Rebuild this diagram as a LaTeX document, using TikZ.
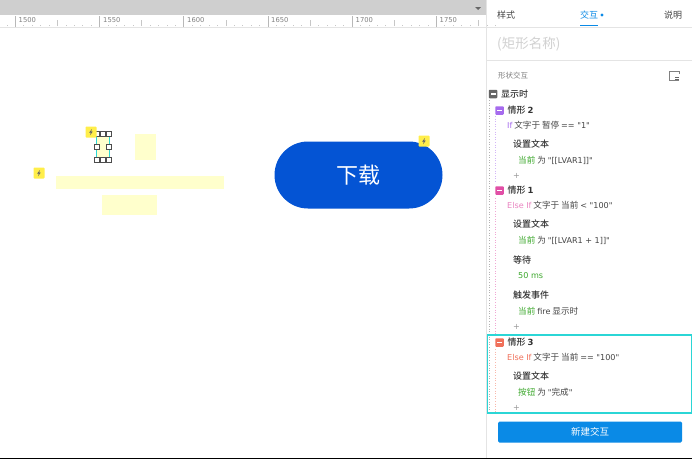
\documentclass[tikz,border=0pt]{standalone}
\usepackage{fontspec}
\setmainfont[BoldFont={Noto Sans CJK SC Medium}]{Noto Sans CJK SC}
\newfontfamily\latf[Scale=0.94]{DejaVu Sans}
\newcommand{\La}[1]{{\latf #1}}
\definecolor{rulerg}{HTML}{CFCFCF}
\definecolor{lineg}{HTML}{E4E4E4}
\definecolor{ylw}{HTML}{FFFFCC}
\definecolor{blu}{HTML}{0454D4}
\definecolor{tur}{HTML}{2BD6D6}
\definecolor{grn}{HTML}{3CA82C}
\definecolor{txt}{HTML}{444444}
\definecolor{btn}{HTML}{0A8AE6}
\definecolor{pur}{HTML}{A66BEE}
\definecolor{pnk}{HTML}{E14FA6}
\definecolor{org}{HTML}{F0705A}
\definecolor{flg}{HTML}{FFEE4A}
\tikzset{
  x=1pt,y=-1pt,
  lb/.style={inner sep=0pt,anchor=west,font=\fontsize{8.6}{10}\selectfont,text=txt},
  hd/.style={lb,font=\fontsize{9}{10}\selectfont\bfseries,text=black!80},
  act/.style={lb},
  tab/.style={lb,font=\fontsize{9}{10}\selectfont},
  rul/.style={inner sep=0pt,anchor=west,font=\fontsize{7.2}{8}\selectfont\latf,text=black!50},
  handle/.style={draw=black!70,fill=white,line width=.6pt,minimum size=4.5pt,inner sep=0pt},
  flag/.style={fill=flg,rounded corners=.8pt,minimum size=11pt,inner sep=0pt},
  minusbox/.style={minimum size=8.5pt,inner sep=0pt,rounded corners=.8pt},
  ybox/.style={fill=ylw},
}
\newcommand{\boltat}[2]{\fill[black!60] (#1+.9,#2-3) -- (#1-1.8,#2+.5) -- (#1-.2,#2+.5) -- (#1-.9,#2+3.2) -- (#1+1.8,#2-.5) -- (#1+.2,#2-.5) -- cycle;}
\newcommand{\minusin}[2]{\fill[white] (#1-2.5,#2-.7) rectangle (#1+2.5,#2+.7);}
\begin{document}
\begin{tikzpicture}
\useasboundingbox (0,0) rectangle (692,459);
\fill[white] (0,0) rectangle (692,459);
% top bar and ruler
\fill[rulerg] (0,0) rectangle (486,15);
\fill[black!60] (475,7) -- (481,7) -- (478,10) -- cycle;
\draw[lineg,line width=.7pt] (0,27) -- (486,27);
\foreach \i in {-1,...,57}{\draw[black!22,line width=.4pt] ({15.2+8.42*\i},26) -- ({15.2+8.42*\i},24.5);}
\foreach \i in {-1,0,1,2,3,4,5}{\draw[black!28,line width=.4pt] ({15.2+84.2*\i},27) -- ({15.2+84.2*\i},15.5);
  \draw[black!22,line width=.4pt] ({57.3+84.2*\i},26) -- ({57.3+84.2*\i},20);}
\foreach \x/\t in {18.5/1500,103/1550,187/1600,271/1650,355.5/1700,439.5/1750}{\node[rul] at (\x,20.5) {\t};}
% yellow shapes
\node[ybox,minimum width=21pt,minimum height=26pt,inner sep=0pt] (r2) at (145.5,147) {};
\node[ybox,minimum width=168pt,minimum height=13pt,inner sep=0pt] (r3) at (139.5,182) {};
\node[ybox,minimum width=55pt,minimum height=20pt,inner sep=0pt] (r4) at (129.5,205) {};
\node[ybox,draw=tur,line width=.7pt,minimum width=13pt,minimum height=26pt,inner sep=0pt] (sel) at (103,147) {};
\foreach \x/\y in {97/134,103/134,109/134,97/147,109/147,97/160,103/160,109/160}{\node[handle] at (\x,\y) {};}
% flags
\node[flag] (f1) at (91,132) {}; \boltat{91}{132}
\node[flag] (f2) at (39,173) {}; \boltat{39}{173}
% main button
\node[fill=blu,rounded corners=33.5pt,minimum width=168pt,minimum height=67pt,inner sep=0pt,text=white,font=\fontsize{22}{24}\selectfont] (b) at (358.5,175) {下载};
\node[flag,minimum size=11pt] (f3) at (424,141) {}; \boltat{424}{141}
% panel
\draw[lineg,line width=.8pt] (486,0) -- (486,459);
\draw[lineg,line width=.7pt] (486,27) -- (692,27);
\draw[lineg,line width=.7pt] (486,60) -- (692,60);
\node[tab] at (497,15) {样式};
\node[tab,text=btn] at (580,15) {交互};
\fill[btn] (602,15) circle (1.7);
\node[tab] at (664,15) {说明};
\draw[btn,line width=1.8pt] (580,25.5) -- (598,25.5);
\node[lb,font=\fontsize{13.5}{15}\selectfont,text=black!18] at (497,44) {(矩形名称)};
\node[lb,font=\fontsize{7.5}{8}\selectfont,text=black!50] at (498,76) {形状交互};
\draw[black!50,line width=.5pt] (679,80) -- (669,80) -- (669,71) -- (679,71) -- (679,74);
\draw[black!60,line width=.8pt] (675,77) -- (679,77) (675,79) -- (679,79);
% tree guides
\draw[black!30,dotted,line width=.6pt] (489.5,100) -- (489.5,414);
\draw[pur!50,dotted,line width=.6pt] (495,116) -- (495,182);
\draw[pnk!50,dotted,line width=.6pt] (495,198) -- (495,334);
\draw[org!50,dotted,line width=.6pt] (495,349) -- (495,412);
% content
\node[minusbox,fill=black!60] (m0) at (493,94) {}; \minusin{493}{94}
\node[hd] at (501,94) {显示时};
\node[minusbox,fill=pur] (m1) at (499.5,110.5) {}; \minusin{499.5}{110.5}
\node[hd] at (507.5,110.5) {情形 \La{2}};
\node[lb] at (507,125) {\textcolor{pur}{\La{If}} 文字于 暂停 \La{== "1"}};
\node[hd] at (513,144) {设置文本};
\node[act] at (518,160) {\textcolor{grn}{当前} 为 \La{"[[LVAR1]]"}};
\node[lb,text=black!40] at (513,176) {\La{+}};
\node[minusbox,fill=pnk] (m2) at (499.5,190.5) {}; \minusin{499.5}{190.5}
\node[hd] at (507.5,190.5) {情形 \La{1}};
\node[lb] at (507,205.5) {\textcolor{pnk!70}{\La{Else If}} 文字于 当前 \La{< "100"}};
\node[hd] at (513,224) {设置文本};
\node[act] at (518,240) {\textcolor{grn}{当前} 为 \La{"[[LVAR1 + 1]]"}};
\node[hd] at (513,260) {等待};
\node[act,text=grn] at (518,276) {\La{50 ms}};
\node[hd] at (513,295.5) {触发事件};
\node[act] at (518,311.5) {\textcolor{grn}{当前} \La{fire} 显示时};
\node[lb,text=black!40] at (513,327) {\La{+}};
\node[minusbox,fill=org] (m3) at (499.5,342.5) {}; \minusin{499.5}{342.5}
\node[hd] at (507.5,342.5) {情形 \La{3}};
\node[lb] at (507,357) {\textcolor{org}{\La{Else If}} 文字于 当前 \La{== "100"}};
\node[hd] at (513,376) {设置文本};
\node[act] at (518,392) {\textcolor{grn}{按钮} 为 \La{"}完成\La{"}};
\node[lb,text=black!40] at (513,408) {\La{+}};
\draw[tur,line width=1.3pt] (487.5,335) rectangle (691.5,413);
\node[fill=btn,rounded corners=1.5pt,minimum width=184pt,minimum height=21pt,inner sep=0pt,text=white,font=\fontsize{9.5}{10}\selectfont] (new) at (590,432) {新建交互};
\draw[black,line width=1pt] (0,458.5) -- (692,458.5);
\end{tikzpicture}
\end{document}
